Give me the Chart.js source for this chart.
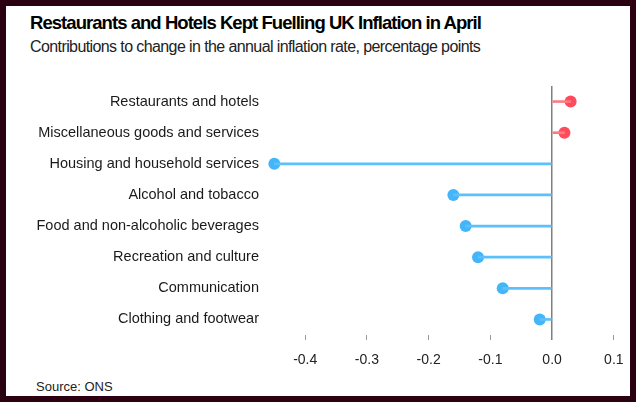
<!DOCTYPE html>
<html>
<head>
<meta charset="utf-8">
<script src="https://cdn.jsdelivr.net/npm/chart.js@4"></script>
<style>
  html, body { margin: 0; padding: 0; }
  body { width: 636px; height: 402px; background: #2b0011; position: relative; overflow: hidden; font-family: "Liberation Sans", Arial, sans-serif; }
  #panel { position: absolute; left: 6px; top: 6px; width: 624px; height: 390px; background: #fff; }
  #title { position: absolute; left: 30px; top: 13.6px; font-size: 18.5px; line-height: 18.5px; font-weight: bold; letter-spacing: -0.95px; color: #000; white-space: nowrap; }
  #subtitle { position: absolute; left: 30px; top: 38.8px; font-size: 16px; line-height: 16px; letter-spacing: -0.6px; color: #222; white-space: nowrap; }
  #source { position: absolute; left: 36px; top: 380px; font-size: 13px; line-height: 13px; color: #222; white-space: nowrap; }
  #wrap { position: absolute; left: 0; top: 0; width: 636px; height: 402px; }
</style>
</head>
<body>
<div id="panel"></div>
<div id="title">Restaurants and Hotels Kept Fuelling UK Inflation in April</div>
<div id="subtitle">Contributions to change in the annual inflation rate, percentage points</div>
<div id="source">Source: ONS</div>
<div id="wrap"><canvas id="chart"></canvas></div>
<script>
const categories = [
    "Restaurants and hotels",
    "Miscellaneous goods and services",
    "Housing and household services",
    "Alcohol and tobacco",
    "Food and non-alcoholic beverages",
    "Recreation and culture",
    "Communication",
    "Clothing and footwear"
]
const contributions = [0.03, 0.02, -0.45, -0.16, -0.14, -0.12, -0.08, -0.02]
const xTicks = [-0.4, -0.3, -0.2, -0.1, 0.0, 0.1]

const red = "#ff4b5c"
const blue = "#43b6fa"
const redStem = "#ff7a86"
const blueStem = "#5cc0fa"

let dotColors = contributions.map(v => v >= 0 ? red : blue)
let stemColors = contributions.map(v => v >= 0 ? redStem : blueStem)

let config = {
    type: 'bar',
    data: {
        labels: categories,
        datasets: [
            {
                type: 'bar',
                indexAxis: 'y',
                data: contributions,
                backgroundColor: stemColors,
                barThickness: 2,
                xAxisID: 'x',
                yAxisID: 'y'
            },
            {
                type: 'line',
                indexAxis: 'y',
                data: contributions,
                showLine: false,
                pointRadius: 6,
                pointBackgroundColor: dotColors,
                pointBorderWidth: 0,
                xAxisID: 'x',
                yAxisID: 'y'
            }
        ]
    },
    options: {
        indexAxis: 'y',
        responsive: true,
        maintainAspectRatio: false,
        animation: false,
        events: [],
        layout: {
            padding: { left: 0, right: 16, top: 86, bottom: 31 }
        },
        plugins: {
            legend: { display: false },
            tooltip: { enabled: false }
        },
        scales: {
            x: {
                type: 'linear',
                min: -0.47,
                max: 0.11,
                afterBuildTicks: (scale) => {
                    scale.ticks = xTicks.map(v => ({ value: v }))
                },
                afterFit: (scale) => {
                    scale.height = 36
                },
                border: { display: false },
                grid: {
                    drawOnChartArea: true,
                    color: (ctx) => ctx.tick && ctx.tick.value === 0 ? '#7f7f7f' : 'rgba(0,0,0,0)',
                    lineWidth: (ctx) => ctx.tick && ctx.tick.value === 0 ? 1.5 : 1,
                    tickColor: (ctx) => ctx.tick && ctx.tick.value === 0 ? '#7f7f7f' : '#999',
                    tickWidth: (ctx) => ctx.tick && ctx.tick.value === 0 ? 1.5 : 1,
                    tickLength: 5
                },
                ticks: {
                    padding: 12,
                    color: '#222',
                    font: { family: '"Liberation Sans", Arial, sans-serif', size: 14 },
                    callback: (value) => Number(value).toFixed(1)
                }
            },
            y: {
                type: 'category',
                afterFit: (scale) => {
                    scale.width = 262
                },
                border: { display: false },
                grid: { display: false, drawTicks: false },
                ticks: {
                    padding: 3,
                    color: '#1a1a1a',
                    font: { family: '"Liberation Sans", Arial, sans-serif', size: 14.5 }
                }
            }
        }
    }
}

const myChart = new Chart(document.querySelector("#chart"), config)
</script>
</body>
</html>
